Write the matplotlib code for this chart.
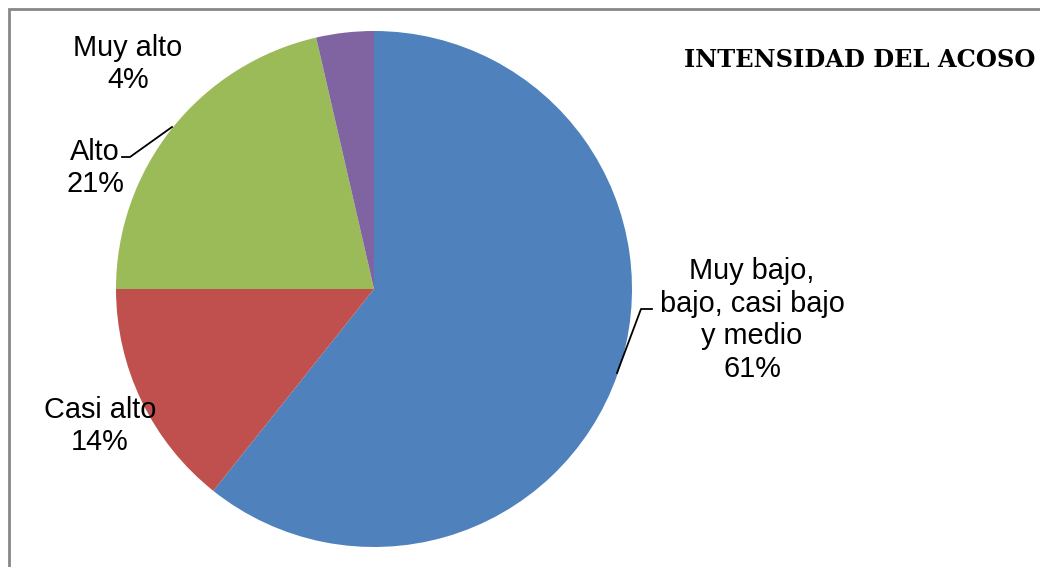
import matplotlib
matplotlib.use("Agg")
import matplotlib.pyplot as plt
from matplotlib.lines import Line2D
import numpy as np

categories = ["Muy bajo,\nbajo, casi bajo\ny medio", "Casi alto", "Alto", "Muy alto"]
values = [60.7, 14.3, 21.4, 3.6]
colors = ["#4F81BD", "#C0504D", "#9BBB59", "#8064A2"]
title = "INTENSIDAD DEL ACOSO"

W, H = 1040, 567
fig = plt.figure(figsize=(W / 100, H / 100), dpi=100)
ax = fig.add_axes([0, 0, 1, 1])
ax.set_xlim(0, W)
ax.set_ylim(0, H)
ax.axis("off")

cx, cy, r = 374, H - 289, 258
wedges, _ = ax.pie(values, colors=colors, startangle=90, counterclock=False,
                   center=(cx, cy), radius=r, wedgeprops=dict(linewidth=0))
ax.set_xlim(0, W)
ax.set_ylim(0, H)
ax.set_aspect("equal")

font = dict(family=["Liberation Sans", "DejaVu Sans"], size=20.8, color="black",
            ha="center", va="center", linespacing=1.2)

total = sum(values)
# label positions (pixel layout)
label_pos = [(752, H - 320), (100, H - 426), (95, H - 168), (128, H - 64)]
for cat, v, (lx, ly) in zip(categories, values, label_pos):
    ax.text(lx, ly, f"{cat}\n{round(100 * v / total):.0f}%", **font)

# leader lines
ax.add_line(Line2D([172, 130, 122], [H - 127, H - 157, H - 157], color="black", lw=1.3))
ax.add_line(Line2D([617, 641, 652], [H - 373, H - 309, H - 309], color="black", lw=1.3))

ax.text(684, H - 60, title, family=["DejaVu Serif"], weight="bold",
        size=17.4, ha="left", va="center", color="black")

# chart border
ax.add_line(Line2D([9, 9, W + 5], [-5, H - 9, H - 9], color="#878787", lw=2,
                   solid_joinstyle="miter"))

fig.savefig("out.png", dpi=100)
